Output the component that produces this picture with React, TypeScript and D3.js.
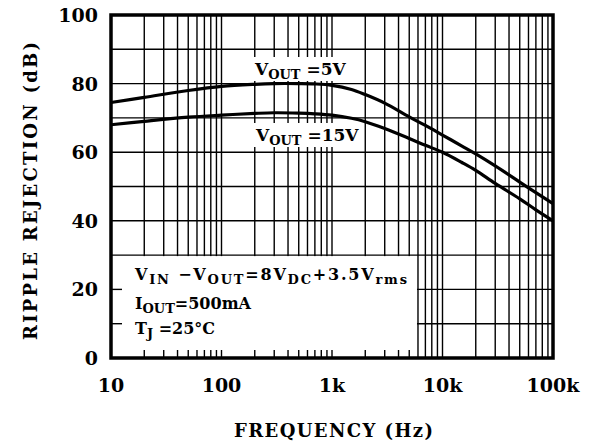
import React, { useEffect, useRef } from 'react'
import * as d3 from 'd3'

type TPoint = { f: number; db: number }

// frequencies (Hz)
const freqs = [
  10, 20, 50, 100, 200, 300, 500, 700, 1000, 1500, 2000, 3000, 5000, 7000, 10000, 15000, 20000,
  30000, 50000, 70000, 100000,
]
const vout5 = [
  74.5, 76, 78, 79.2, 79.8, 80, 80, 79.9, 79.5, 78.3, 76.8, 74.3, 70.3, 67.8, 65, 61.8, 59.5, 56,
  51.3, 48.2, 45,
]
const vout15 = [
  68, 69, 70.2, 70.8, 71.3, 71.5, 71.4, 71.2, 70.8, 69.9, 68.9, 66.9, 64, 62, 60, 57, 54.7, 50.9,
  46.4, 43.2, 40,
]

const xTicks = [10, 100, 1000, 10000, 100000]
const xTickLabels = ['10', '100', '1k', '10k', '100k']
const yTicks = [0, 20, 40, 60, 80, 100]

const W = 594
const H = 447
const FONT = '"DejaVu Serif", serif'

const App = (): JSX.Element => {
  const ref = useRef<SVGSVGElement>(null)

  useEffect(() => {
    const svg = d3.select(ref.current)
    svg.selectAll('*').remove()

    const x = d3.scaleLog().domain([10, 100000]).range([111, 553])
    const y = d3.scaleLinear().domain([0, 100]).range([358, 15])

    // minor grid positions 2..9 per decade
    const minor: number[] = []
    for (let dec = 10; dec < 100000; dec *= 10) {
      for (let k = 1; k <= 9; k++) minor.push(dec * k)
    }
    minor.push(100000)

    const grid = svg.append('g').attr('stroke', '#000').attr('stroke-width', 1.4)
    grid
      .selectAll('line.v')
      .data(minor)
      .join('line')
      .attr('x1', d => x(d))
      .attr('x2', d => x(d))
      .attr('y1', y(100))
      .attr('y2', y(0))
    grid
      .selectAll('line.h')
      .data(d3.range(0, 101, 10))
      .join('line')
      .attr('x1', x(10))
      .attr('x2', x(100000))
      .attr('y1', d => y(d))
      .attr('y2', d => y(d))

    // conditions box covers the grid
    const boxRight = x(6000) - 1
    svg
      .append('rect')
      .attr('x', x(10))
      .attr('y', y(30) + 1)
      .attr('width', boxRight - x(10))
      .attr('height', y(0) - y(30) - 1)
      .attr('fill', '#fff')

    const ticks = svg.append('g').attr('stroke', '#000').attr('stroke-width', 1.4)
    ticks
      .selectAll('line.bt')
      .data(minor.filter(d => x(d) < boxRight))
      .join('line')
      .attr('x1', d => x(d))
      .attr('x2', d => x(d))
      .attr('y1', y(0))
      .attr('y2', y(0) - 8)
    ticks
      .selectAll('line.lt')
      .data([10, 20])
      .join('line')
      .attr('x1', x(10))
      .attr('x2', x(10) + 11)
      .attr('y1', d => y(d))
      .attr('y2', d => y(d))

    const line = d3
      .line<TPoint>()
      .x(d => x(d.f))
      .y(d => y(d.db))
      .curve(d3.curveCatmullRom.alpha(0.5))

    const series = [vout5, vout15].map(vals => freqs.map((f, i) => ({ f, db: vals[i] })))
    svg
      .selectAll('path.curve')
      .data(series)
      .join('path')
      .attr('fill', 'none')
      .attr('stroke', '#000')
      .attr('stroke-width', 3.2)
      .attr('d', d => line(d))

    // curve labels with white backing
    const labels = [
      { x: 255, y: 75, bgW: 92, tail: '=5V' },
      { x: 256, y: 141, bgW: 108, tail: '=15V' },
    ]
    labels.forEach(l => {
      svg
        .append('rect')
        .attr('x', l.x - 2)
        .attr('y', l.y - 18)
        .attr('width', l.bgW)
        .attr('height', 24)
        .attr('fill', '#fff')
      const t = svg
        .append('text')
        .attr('x', l.x)
        .attr('y', l.y)
        .attr('font-family', FONT)
        .attr('font-weight', 'bold')
        .attr('font-size', 17)
        .attr('fill', '#000')
      t.append('tspan').text('V')
      t.append('tspan').attr('font-size', 13).attr('dy', 4).text('OUT')
      t.append('tspan').attr('dy', -4).text(' ' + l.tail)
    })

    // conditions text
    const cond = svg
      .append('g')
      .attr('font-family', FONT)
      .attr('font-weight', 'bold')
      .attr('font-size', 16)
      .attr('fill', '#000')
    const l1 = cond
      .append('text')
      .attr('x', 135)
      .attr('y', 280)
      .attr('textLength', 272)
      .attr('lengthAdjust', 'spacing')
    l1.append('tspan').text('V')
    l1.append('tspan').attr('font-size', 13).attr('dy', 4).text('IN')
    l1.append('tspan').attr('dy', -4).text(' \u2212V')
    l1.append('tspan').attr('font-size', 13).attr('dy', 4).text('OUT')
    l1.append('tspan').attr('dy', -4).text('=8V')
    l1.append('tspan').attr('font-size', 13).attr('dy', 4).text('DC')
    l1.append('tspan').attr('dy', -4).text('+3.5V')
    l1.append('tspan').attr('font-size', 13).attr('dy', 4).text('rms')
    const l2 = cond.append('text').attr('x', 135).attr('y', 309)
    l2.append('tspan').text('I')
    l2.append('tspan').attr('font-size', 13).attr('dy', 4).text('OUT')
    l2.append('tspan').attr('dy', -4).text('=500mA')
    const l3 = cond.append('text').attr('x', 135).attr('y', 334)
    l3.append('tspan').text('T')
    l3.append('tspan').attr('font-size', 13).attr('dy', 4).text('J')
    l3.append('tspan').attr('dy', -4).text(' =25\u00B0C')

    // frame
    svg
      .append('rect')
      .attr('x', x(10))
      .attr('y', y(100))
      .attr('width', x(100000) - x(10))
      .attr('height', y(0) - y(100))
      .attr('fill', 'none')
      .attr('stroke', '#000')
      .attr('stroke-width', 3.5)

    // tick labels
    svg
      .append('g')
      .attr('font-family', FONT)
      .attr('font-weight', 'bold')
      .attr('font-size', 19)
      .selectAll('text')
      .data(xTicks)
      .join('text')
      .attr('x', d => x(d))
      .attr('y', 392)
      .attr('text-anchor', 'middle')
      .text((d, i) => xTickLabels[i])
    svg
      .append('g')
      .attr('font-family', FONT)
      .attr('font-weight', 'bold')
      .attr('font-size', 19)
      .selectAll('text')
      .data(yTicks)
      .join('text')
      .attr('x', 98)
      .attr('y', d => y(d) + 7)
      .attr('text-anchor', 'end')
      .text(d => String(d))

    // axis titles
    svg
      .append('text')
      .attr('x', 234)
      .attr('y', 437)
      .attr('textLength', 199)
      .attr('lengthAdjust', 'spacing')
      .attr('font-family', FONT)
      .attr('font-weight', 'bold')
      .attr('font-size', 18)
      .text('FREQUENCY  (Hz)')
    svg
      .append('text')
      .attr('transform', 'translate(37,340) rotate(-90)')
      .attr('textLength', 298)
      .attr('lengthAdjust', 'spacing')
      .attr('font-family', FONT)
      .attr('font-weight', 'bold')
      .attr('font-size', 18)
      .text('RIPPLE  REJECTION  (dB)')
  }, [])

  return (
    <svg
      ref={ref}
      width={W}
      height={H}
      style={{ position: 'absolute', left: 0, top: 0, background: '#fff' }}
    />
  )
}

export default App
